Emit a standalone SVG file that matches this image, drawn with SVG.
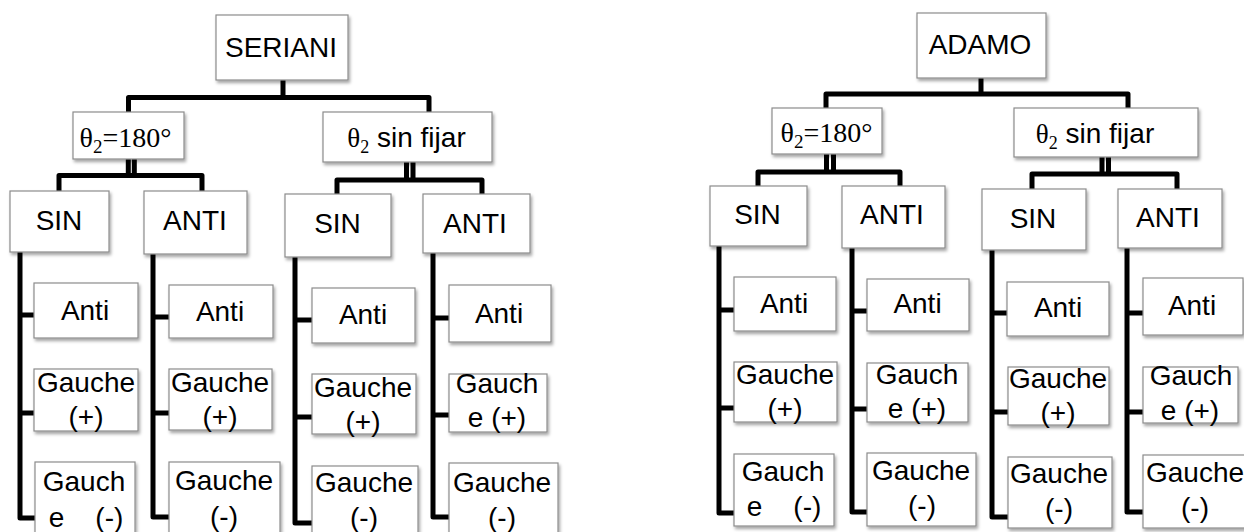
<svg xmlns="http://www.w3.org/2000/svg" width="1244" height="532" viewBox="0 0 1244 532">
<style>
.box{fill:#fff;stroke:#8c8c8c;stroke-width:1.2;filter:url(#sh)}
.t{font-family:"Liberation Sans",Arial,sans-serif;font-size:28px;text-anchor:middle;fill:#000}
.s{font-family:"Liberation Serif","Times New Roman",serif}
.c{stroke:#000;stroke-width:5;fill:none;stroke-linejoin:round}
</style>
<defs>
<filter id="sh" x="-10%" y="-10%" width="130%" height="140%">
<feDropShadow dx="1.5" dy="2.5" stdDeviation="1.5" flood-color="#000" flood-opacity="0.35"/>
</filter>
</defs>
<rect width="1244" height="532" fill="#fff"/>
<g id="connectors" class="c">
<path d="M283,80 V97.5"/>
<path d="M128.5,112 V97.5 H429 V112"/>
<path d="M128.3,159 V175.5 M134.3,159 V175.5"/>
<path d="M59,191 V175.5 H202 V191"/>
<path d="M406.5,162 V180 M413,162 V180"/>
<path d="M337,194 V180 H482 V194"/>
<path d="M20,252 V518 H35 M20,315 H34 M20,413 H34"/>
<path d="M153,254 V517 H169 M153,317 H169 M153,413 H169"/>
<path d="M295,257 V523 H312 M295,320 H312 M295,417 H312"/>
<path d="M433,253 V517 H449 M433,318 H449 M433,415 H449"/>
<path d="M981,78 V94"/>
<path d="M826,108 V94 H1128 V108"/>
<path d="M826.5,154 V172 M833.5,154 V172"/>
<path d="M758,186 V172 H900 V186"/>
<path d="M1102,157 V174 M1108.5,157 V174"/>
<path d="M1032,189 V174 H1177 V189"/>
<path d="M719,246 V513 H734 M719,310 H734 M719,408 H734"/>
<path d="M852,248 V512 H867 M852,311 H867 M852,409 H867"/>
<path d="M992,250 V517 H1008 M992,313 H1008 M992,412 H1008"/>
<path d="M1127,248 V512 H1143 M1127,313 H1143 M1127,412 H1143"/>
</g>
<g id="seriani"><rect class="box" x="216" y="15" width="132" height="65"/><text class="t" x="281" y="57" font-size="26">SERIANI</text></g>
<g id="l-theta180"><rect class="box" x="73" y="112" width="111" height="47"/><text class="t s" x="125.5" y="147" font-size="31">θ<tspan font-size="19" dy="6">2</tspan><tspan dy="-6">=180°</tspan></text></g>
<g id="l-thetafree"><rect class="box" x="323" y="112" width="169" height="50"/><text class="t" x="406.5" y="147"><tspan class="s" font-size="27">θ</tspan><tspan class="s" font-size="18" dy="6">2</tspan><tspan dy="-6"> sin fijar</tspan></text></g>
<g id="l-sin1"><rect class="box" x="10" y="191" width="99" height="61"/><text class="t" x="59" y="230" font-size="27">SIN</text></g>
<g id="l-anti1"><rect class="box" x="144" y="191" width="103" height="63"/><text class="t" x="195" y="230" font-size="27">ANTI</text></g>
<g id="l-sin2"><rect class="box" x="285" y="194" width="106" height="63"/><text class="t" x="337.5" y="233" font-size="27">SIN</text></g>
<g id="l-anti2"><rect class="box" x="423" y="194" width="107" height="59"/><text class="t" x="475" y="233" font-size="27">ANTI</text></g>
<g id="l-c1-anti"><rect class="box" x="34" y="283" width="104" height="55"/><text class="t" x="85" y="320">Anti</text></g>
<g id="l-c1-gp"><rect class="box" x="34" y="369" width="104" height="62"/><text class="t" x="86" y="392">Gauche</text><text class="t" x="86" y="426">(+)</text></g>
<g id="l-c1-gm"><rect class="box" x="35" y="462" width="100" height="80"/><text class="t" x="84" y="491">Gauch</text><text class="t" x="86" y="527" xml:space="preserve">e    (-)</text></g>
<g id="l-c2-anti"><rect class="box" x="169" y="285" width="104" height="53"/><text class="t" x="220" y="321">Anti</text></g>
<g id="l-c2-gp"><rect class="box" x="169" y="369" width="103" height="61"/><text class="t" x="220" y="392">Gauche</text><text class="t" x="220" y="426">(+)</text></g>
<g id="l-c2-gm"><rect class="box" x="169" y="462" width="111" height="80"/><text class="t" x="224" y="490">Gauche</text><text class="t" x="224" y="526">(-)</text></g>
<g id="l-c3-anti"><rect class="box" x="312" y="288" width="103" height="55"/><text class="t" x="363" y="324">Anti</text></g>
<g id="l-c3-gp"><rect class="box" x="312" y="374" width="104" height="60"/><text class="t" x="363" y="397">Gauche</text><text class="t" x="363" y="431">(+)</text></g>
<g id="l-c3-gm"><rect class="box" x="312" y="466" width="106" height="80"/><text class="t" x="364" y="492">Gauche</text><text class="t" x="364" y="527">(-)</text></g>
<g id="l-c4-anti"><rect class="box" x="449" y="285" width="102" height="57"/><text class="t" x="499" y="323">Anti</text></g>
<g id="l-c4-gp"><rect class="box" x="449" y="374" width="98" height="58"/><text class="t" x="497" y="393">Gauch</text><text class="t" x="497" y="427">e (+)</text></g>
<g id="l-c4-gm"><rect class="box" x="449" y="463" width="109" height="80"/><text class="t" x="502" y="492">Gauche</text><text class="t" x="502" y="527">(-)</text></g>
<g id="adamo"><rect class="box" x="917" y="13" width="129" height="65"/><text class="t" x="980" y="54" font-size="26">ADAMO</text></g>
<g id="r-theta180"><rect class="box" x="772" y="108" width="110" height="46"/><text class="t s" x="826.5" y="142" font-size="31">θ<tspan font-size="19" dy="6">2</tspan><tspan dy="-6">=180°</tspan></text></g>
<g id="r-thetafree"><rect class="box" x="1014" y="108" width="184" height="49"/><text class="t" x="1095" y="143"><tspan class="s" font-size="27">θ</tspan><tspan class="s" font-size="18" dy="6">2</tspan><tspan dy="-6"> sin fijar</tspan></text></g>
<g id="r-sin1"><rect class="box" x="710" y="186" width="97" height="60"/><text class="t" x="757.5" y="224" font-size="27">SIN</text></g>
<g id="r-anti1"><rect class="box" x="842" y="186" width="103" height="62"/><text class="t" x="892" y="224" font-size="27">ANTI</text></g>
<g id="r-sin2"><rect class="box" x="982" y="189" width="104" height="61"/><text class="t" x="1033" y="228" font-size="27">SIN</text></g>
<g id="r-anti2"><rect class="box" x="1118" y="189" width="104" height="59"/><text class="t" x="1168" y="227" font-size="27">ANTI</text></g>
<g id="r-c1-anti"><rect class="box" x="734" y="277" width="102" height="54"/><text class="t" x="784" y="313">Anti</text></g>
<g id="r-c1-gp"><rect class="box" x="734" y="362" width="103" height="60"/><text class="t" x="785" y="384">Gauche</text><text class="t" x="785" y="418">(+)</text></g>
<g id="r-c1-gm"><rect class="box" x="734" y="454" width="100" height="72"/><text class="t" x="783" y="481">Gauch</text><text class="t" x="784" y="516" xml:space="preserve">e    (-)</text></g>
<g id="r-c2-anti"><rect class="box" x="867" y="279" width="102" height="52"/><text class="t" x="917.5" y="313">Anti</text></g>
<g id="r-c2-gp"><rect class="box" x="867" y="363" width="101" height="59"/><text class="t" x="917" y="384">Gauch</text><text class="t" x="917" y="418">e (+)</text></g>
<g id="r-c2-gm"><rect class="box" x="867" y="453" width="109" height="73"/><text class="t" x="921" y="480">Gauche</text><text class="t" x="922" y="515">(-)</text></g>
<g id="r-c3-anti"><rect class="box" x="1007" y="282" width="102" height="54"/><text class="t" x="1058" y="317">Anti</text></g>
<g id="r-c3-gp"><rect class="box" x="1008" y="367" width="101" height="58"/><text class="t" x="1058" y="388">Gauche</text><text class="t" x="1058" y="422">(+)</text></g>
<g id="r-c3-gm"><rect class="box" x="1008" y="457" width="104" height="71"/><text class="t" x="1059" y="483">Gauche</text><text class="t" x="1059" y="518">(-)</text></g>
<g id="r-c4-anti"><rect class="box" x="1143" y="278" width="100" height="57"/><text class="t" x="1192" y="315">Anti</text></g>
<g id="r-c4-gp"><rect class="box" x="1143" y="367" width="95" height="56"/><text class="t" x="1191" y="385">Gauch</text><text class="t" x="1190" y="420">e (+)</text></g>
<g id="r-c4-gm"><rect class="box" x="1143" y="455" width="106" height="73"/><text class="t" x="1195" y="482">Gauche</text><text class="t" x="1195" y="517">(-)</text></g>
</svg>
